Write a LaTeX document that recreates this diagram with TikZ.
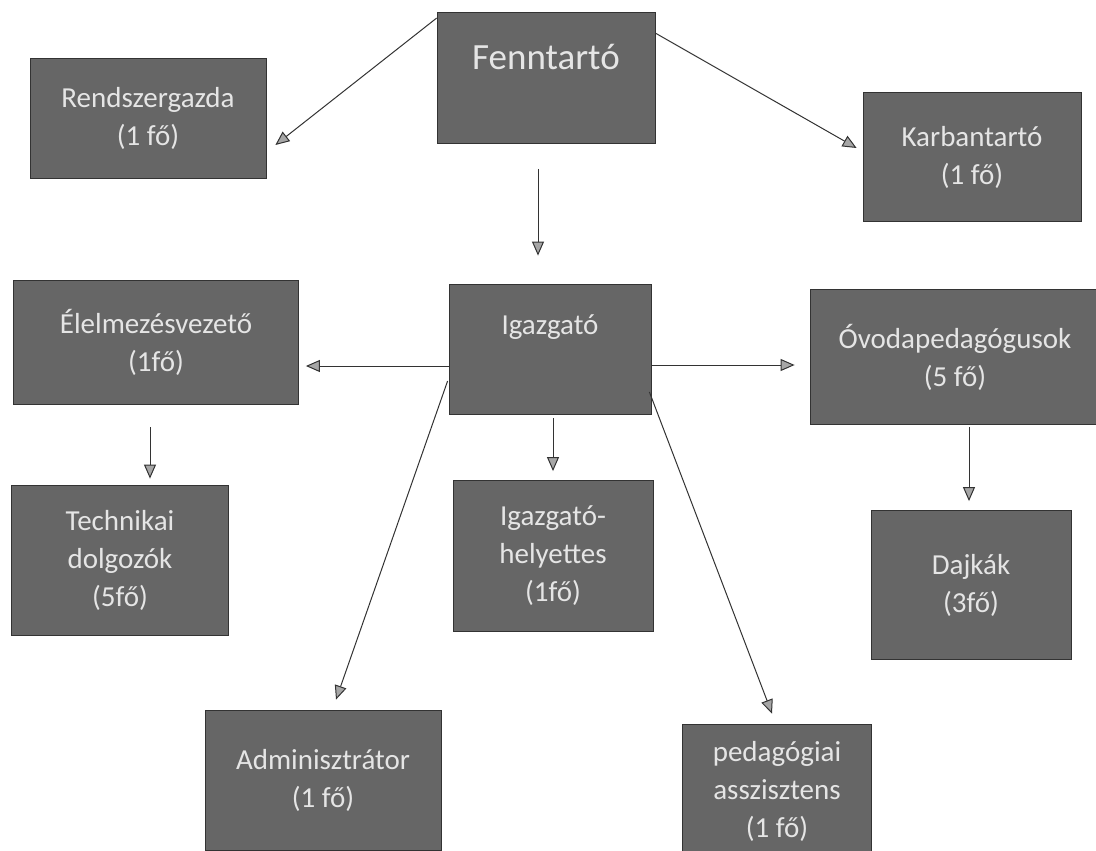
\documentclass[tikz,border=0pt]{standalone}
\usepackage{fontspec}
\setmainfont{Carlito}
\usetikzlibrary{arrows.meta, calc}

\begin{document}
\begin{tikzpicture}[x=1pt, y=-1pt,
        box style/.style={draw=black!80, line width=0.8pt, fill=black!60,
            text=white!90!black, align=center, inner sep=2pt,
            font=\fontsize{29}{38}\selectfont},
        link style/.style={draw=black!80, line width=1pt,
            -{Triangle[length=14pt, width=12pt, fill=black!35]}}
    ]

    \useasboundingbox (0,0) rectangle (1096,851);

    % boxes
    \node[box style, minimum width=218, minimum height=131,
          font=\fontsize{37}{40}\selectfont] (fenn) at (546,78) {Fenntartó\\[2pt]};
    \node[box style, minimum width=236, minimum height=120] (rendsz) at (148,118) {Rendszergazda\\(1 fő)};
    \node[box style, minimum width=218, minimum height=129] (karb) at (972,157) {Karbantartó\\(1 fő)};
    \node[box style, minimum width=202, minimum height=130] (igaz) at (550,349) {Igazgató\\[10pt]};
    \node[box style, minimum width=285, minimum height=124] (elelm) at (156,342) {Élelmezésvezető\\(1fő)};
    \node[box style, minimum width=290, minimum height=135] (ovoda) at (955,357) {Óvodapedagógusok\\(5 fő)};
    \node[box style, minimum width=217, minimum height=150] (techn) at (120,560) {Technikai\\dolgozók\\(5fő)};
    \node[box style, minimum width=200, minimum height=151] (ighely) at (553,556) {Igazgató-\\helyettes\\(1fő)};
    \node[box style, minimum width=200, minimum height=149] (dajka) at (971,585) {Dajkák\\(3fő)};
    \node[box style, minimum width=236, minimum height=140] (admin) at (323,780) {Adminisztrátor\\(1 fő)};
    \node[box style, minimum width=189, minimum height=134] (pedas) at (777,791) {pedagógiai\\asszisztens\\(1 fő)};

    % arrows
    \draw[link style] ([shift={(0,6)}]fenn.north west) -- ([shift={(9,27)}]rendsz.east);
    \draw[link style] ([shift={(0,21)}]fenn.north east) -- ([shift={(-6,-9)}]karb.west);
    \draw[link style] ([shift={(-8,25)}]fenn.south) -- ([shift={(-12,-28)}]igaz.north);
    \draw[link style] ([shift={(0,17)}]igaz.west) -- ([shift={(7,24)}]elelm.east);
    \draw[link style] ([shift={(0,16)}]igaz.east) -- ([shift={(-15,8)}]ovoda.west);
    \draw[link style] ([shift={(-1,32)}]igaz.west) -- ([shift={(13,-10)}]admin.north);
    \draw[link style] ([shift={(-2,43)}]igaz.east) -- ([shift={(-5,-10)}]pedas.north);
    \draw[link style] ([shift={(3,4)}]igaz.south) -- ([shift={(0,-9)}]ighely.north);
    \draw[link style] ([shift={(-6,23)}]elelm.south) -- ([shift={(30,-6)}]techn.north);
    \draw[link style] ([shift={(14,2)}]ovoda.south) -- ([shift={(-2,-9)}]dajka.north);
\end{tikzpicture}
\end{document}
